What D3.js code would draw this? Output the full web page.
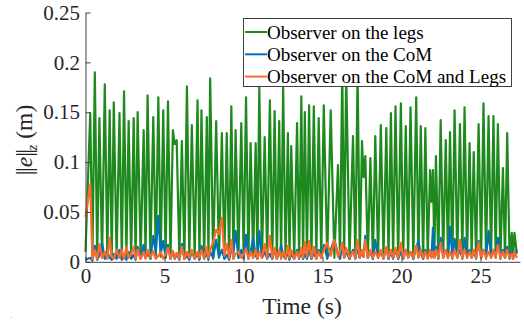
<!DOCTYPE html>
<html>
<head>
<meta charset="utf-8">
<script src="https://cdn.jsdelivr.net/npm/d3@7"></script>
<style>
  body { margin: 0; background: #fff; }
  svg { display: block; font-family: "Liberation Serif", "Times New Roman", serif; }
</style>
</head>
<body>
<svg></svg>
<script>
// Data
var w = 524,
    h = 321;

var time = [0.00, 0.30, 0.44, 0.59, 0.74, 0.88, 1.05, 1.22, 1.38, 1.53,
    1.66, 1.79, 1.97, 2.15, 2.30, 2.44, 2.59, 2.73, 2.89, 3.05,
    3.17, 3.30, 3.49, 3.68, 3.80, 3.93, 4.11, 4.29, 4.45, 4.61,
    4.76, 4.92, 5.07, 5.22, 5.38, 5.53, 5.65, 5.77, 5.94, 6.10,
    6.26, 6.42, 6.57, 6.73, 6.91, 7.09, 7.21, 7.34, 7.51, 7.68,
    7.78, 7.89, 8.08, 8.27, 8.45, 8.63, 8.79, 8.94, 9.09, 9.23,
    9.36, 9.50, 9.68, 9.86, 10.01, 10.16, 10.31, 10.45, 10.61, 10.77,
    10.88, 11.00, 11.17, 11.34, 11.50, 11.67, 11.82, 11.97, 12.11, 12.26,
    12.38, 12.51, 12.66, 12.81, 12.91, 13.02, 13.21, 13.39, 13.52, 13.66,
    13.77, 13.88, 14.02, 14.15, 14.30, 14.45, 14.61, 14.76, 14.92, 15.08,
    15.30, 15.52, 15.75, 15.98, 16.11, 16.25, 16.37, 16.50, 16.71, 16.93,
    17.08, 17.22, 17.36, 17.50, 17.60, 17.71, 17.87, 18.03, 18.19, 18.34,
    18.52, 18.69, 18.86, 19.04, 19.18, 19.33, 19.47, 19.62, 19.79, 19.96,
    20.11, 20.27, 20.42, 20.57, 20.75, 20.93, 21.07, 21.22, 21.37, 21.51,
    21.66, 21.81, 21.90, 21.99, 22.08, 22.18, 22.33, 22.48, 22.64, 22.80,
    22.94, 23.07, 23.22, 23.36, 23.53, 23.70, 23.85, 23.99, 24.15, 24.31,
    24.44, 24.57, 24.72, 24.88, 25.04, 25.19, 25.35, 25.51, 25.67, 25.82,
    25.96, 26.10, 26.26, 26.42, 26.55, 26.69, 26.84, 26.98, 27.06, 27.15,
    27.30
];

// Observer on the legs
var legs = [0.010, 0.149, 0.004, 0.190, 0.003, 0.144, 0.004, 0.178, 0.005, 0.152,
    0.003, 0.160, 0.004, 0.149, 0.003, 0.171, 0.005, 0.141, 0.004, 0.144,
    0.003, 0.150, 0.005, 0.132, 0.004, 0.167, 0.003, 0.145, 0.004, 0.165,
    0.005, 0.152, 0.004, 0.161, 0.003, 0.132, 0.118, 0.122, 0.004, 0.121,
    0.003, 0.176, 0.005, 0.137, 0.004, 0.162, 0.003, 0.152, 0.004, 0.145,
    0.005, 0.184, 0.003, 0.141, 0.004, 0.129, 0.003, 0.129, 0.004, 0.156,
    0.003, 0.132, 0.004, 0.139, 0.005, 0.165, 0.003, 0.119, 0.004, 0.119,
    0.003, 0.175, 0.004, 0.125, 0.005, 0.162, 0.003, 0.151, 0.004, 0.141,
    0.003, 0.175, 0.004, 0.129, 0.003, 0.116, 0.004, 0.139, 0.005, 0.166,
    0.003, 0.150, 0.004, 0.157, 0.003, 0.156, 0.004, 0.144, 0.005, 0.157,
    0.003, 0.152, 0.004, 0.097, 0.003, 0.195, 0.004, 0.190, 0.003, 0.126,
    0.005, 0.190, 0.004, 0.121, 0.085, 0.106, 0.004, 0.104, 0.003, 0.126,
    0.004, 0.137, 0.005, 0.134, 0.003, 0.149, 0.004, 0.156, 0.003, 0.159,
    0.004, 0.136, 0.005, 0.155, 0.003, 0.165, 0.004, 0.136, 0.003, 0.134,
    0.004, 0.092, 0.060, 0.092, 0.004, 0.106, 0.003, 0.142, 0.004, 0.122,
    0.005, 0.130, 0.003, 0.152, 0.004, 0.138, 0.003, 0.155, 0.004, 0.119,
    0.005, 0.110, 0.003, 0.138, 0.004, 0.159, 0.003, 0.146, 0.004, 0.146,
    0.005, 0.138, 0.003, 0.094, 0.004, 0.129, 0.003, 0.029, 0.004, 0.029,
    0.008
];

// Observer on the CoM
var com = [0.002, 0.004, 0.001, 0.016, 0.002, 0.006, 0.019, 0.003, 0.010, 0.004,
    0.002, 0.008, 0.003, 0.012, 0.002, 0.006, 0.002, 0.010, 0.003, 0.007,
    0.002, 0.015, 0.003, 0.017, 0.004, 0.008, 0.003, 0.026, 0.010, 0.046,
    0.008, 0.021, 0.004, 0.017, 0.003, 0.010, 0.003, 0.008, 0.002, 0.018,
    0.003, 0.006, 0.002, 0.010, 0.003, 0.008, 0.002, 0.016, 0.003, 0.009,
    0.002, 0.010, 0.004, 0.022, 0.005, 0.012, 0.003, 0.007, 0.002, 0.012,
    0.010, 0.031, 0.004, 0.012, 0.003, 0.027, 0.004, 0.010, 0.024, 0.006,
    0.003, 0.031, 0.004, 0.010, 0.003, 0.008, 0.003, 0.012, 0.003, 0.008,
    0.017, 0.006, 0.003, 0.010, 0.002, 0.008, 0.003, 0.012, 0.003, 0.010,
    0.003, 0.008, 0.003, 0.012, 0.003, 0.009, 0.003, 0.012, 0.004, 0.017,
    0.004, 0.012, 0.022, 0.008, 0.003, 0.018, 0.004, 0.010, 0.003, 0.012,
    0.003, 0.014, 0.004, 0.010, 0.005, 0.026, 0.004, 0.010, 0.003, 0.022,
    0.004, 0.010, 0.003, 0.014, 0.003, 0.010, 0.003, 0.012, 0.003, 0.010,
    0.003, 0.012, 0.004, 0.010, 0.003, 0.014, 0.021, 0.008, 0.003, 0.012,
    0.004, 0.010, 0.005, 0.034, 0.006, 0.015, 0.004, 0.024, 0.005, 0.012,
    0.004, 0.035, 0.006, 0.023, 0.005, 0.012, 0.004, 0.024, 0.005, 0.012,
    0.004, 0.010, 0.004, 0.021, 0.004, 0.012, 0.005, 0.031, 0.005, 0.012,
    0.004, 0.024, 0.005, 0.012, 0.004, 0.015, 0.004, 0.010, 0.003, 0.008,
    0.012
];

// Observer on the CoM and Legs
var comLegs = [0.045, 0.078, 0.002, 0.012, 0.003, 0.018, 0.004, 0.010, 0.003, 0.024,
    0.005, 0.003, 0.012, 0.004, 0.012, 0.003, 0.015, 0.004, 0.008, 0.015,
    0.003, 0.012, 0.003, 0.010, 0.003, 0.012, 0.004, 0.011, 0.003, 0.006,
    0.010, 0.003, 0.008, 0.014, 0.003, 0.011, 0.004, 0.009, 0.003, 0.015,
    0.003, 0.010, 0.004, 0.012, 0.003, 0.010, 0.004, 0.012, 0.003, 0.015,
    0.004, 0.012, 0.020, 0.032, 0.028, 0.044, 0.006, 0.018, 0.004, 0.022,
    0.003, 0.008, 0.010, 0.004, 0.008, 0.013, 0.003, 0.010, 0.004, 0.012,
    0.003, 0.010, 0.004, 0.018, 0.004, 0.026, 0.004, 0.014, 0.003, 0.012,
    0.004, 0.010, 0.003, 0.016, 0.004, 0.012, 0.003, 0.010, 0.004, 0.014,
    0.004, 0.020, 0.005, 0.021, 0.004, 0.015, 0.003, 0.010, 0.004, 0.012,
    0.019, 0.006, 0.022, 0.005, 0.010, 0.019, 0.004, 0.014, 0.004, 0.010,
    0.004, 0.022, 0.004, 0.012, 0.005, 0.022, 0.004, 0.012, 0.004, 0.010,
    0.004, 0.012, 0.003, 0.015, 0.004, 0.012, 0.004, 0.014, 0.004, 0.019,
    0.004, 0.012, 0.004, 0.010, 0.004, 0.016, 0.004, 0.012, 0.004, 0.010,
    0.003, 0.012, 0.004, 0.010, 0.004, 0.012, 0.004, 0.019, 0.004, 0.012,
    0.004, 0.010, 0.004, 0.012, 0.004, 0.022, 0.004, 0.012, 0.004, 0.010,
    0.004, 0.012, 0.004, 0.019, 0.004, 0.012, 0.004, 0.010, 0.004, 0.012,
    0.004, 0.017, 0.004, 0.010, 0.004, 0.012, 0.004, 0.008, 0.003, 0.010,
    0.004
];

var seriesNames = ['Observer on the legs', 'Observer on the CoM', 'Observer on the CoM and Legs'];
var seriesColors = ['#1E8A1E', '#0072BD', '#FF6A2A'];
var xTicks = [0, 5, 10, 15, 20, 25];
var yTicks = [0, 0.05, 0.1, 0.15, 0.2, 0.25];

// Canvas
var svg = d3.select('svg')
    .attr('width', w)
    .attr('height', h);

var xScale = d3.scaleLinear()
    .domain([0, 27.5])
    .range([85.5, 520]);
var yScale = d3.scaleLinear()
    .domain([0, 0.25])
    .range([261.8, 12.5]);

// Lines
var line = d3.line()
    .x(function(d, i) { return xScale(time[i]); })
    .y(function(d) { return yScale(d); });

[legs, com, comLegs].forEach(function(s, k) {
    svg.append('path')
        .datum(s)
        .attr('d', line)
        .attr('fill', 'none')
        .attr('stroke', seriesColors[k])
        .attr('stroke-width', 2.2)
        .attr('stroke-linejoin', 'round');
});

// Axes (ticks inside, like matlab)
var xAxis = svg.append('g')
    .attr('transform', 'translate(0,' + yScale(0) + ')')
    .call(d3.axisBottom(xScale).tickValues(xTicks).tickSizeInner(-5).tickSizeOuter(0).tickPadding(6).tickFormat(d3.format('d')));
var yAxis = svg.append('g')
    .attr('transform', 'translate(' + xScale(0) + ',0)')
    .call(d3.axisLeft(yScale).tickValues(yTicks).tickSizeInner(-5).tickSizeOuter(0).tickPadding(5.5).tickFormat(function(d) { return d === 0 ? '0' : String(d); }));

[xAxis, yAxis].forEach(function(a) {
    a.attr('font-family', '"Liberation Serif", serif')
        .attr('font-size', 21);
    a.select('.domain').attr('stroke', '#404040');
    a.selectAll('.tick line').attr('stroke', '#404040');
    a.selectAll('.tick text').attr('fill', '#262626');
});

// Axis labels
svg.append('text')
    .attr('x', 302)
    .attr('y', 314)
    .attr('text-anchor', 'middle')
    .attr('fill', '#262626')
    .attr('font-size', 23.5)
    .text('Time (s)');

var yl = svg.append('text')
    .attr('transform', 'translate(32,140) rotate(-90)')
    .attr('text-anchor', 'middle')
    .attr('fill', '#262626')
    .attr('font-size', 23.5);
yl.append('tspan').attr('letter-spacing', -1.5).text('||');
yl.append('tspan').attr('dx', 1.5).style('font-style', 'italic').text('e');
yl.append('tspan').attr('letter-spacing', -1.5).text('||');
yl.append('tspan').style('font-style', 'italic').attr('font-size', 15).attr('dy', 5).text('z');
yl.append('tspan').attr('dy', -5).text(' (m)');

// Legend
var lg = svg.append('g');
lg.append('rect')
    .attr('x', 243.5)
    .attr('y', 18.5)
    .attr('width', 268)
    .attr('height', 68)
    .attr('fill', '#fff')
    .attr('stroke', '#404040')
    .attr('stroke-width', 1);

seriesNames.forEach(function(name, i) {
    var yy = 32 + i * 22.3;
    lg.append('line')
        .attr('x1', 245)
        .attr('x2', 267)
        .attr('y1', yy)
        .attr('y2', yy)
        .attr('stroke', seriesColors[i])
        .attr('stroke-width', 2);
    lg.append('text')
        .attr('x', 267)
        .attr('y', yy + 6.5)
        .attr('fill', '#000')
        .attr('font-size', 19)
        .text(name);
});

// small dot left bottom
svg.append('text')
    .attr('x', 10)
    .attr('y', 318)
    .attr('fill', '#888866')
    .attr('font-size', 8)
    .text('.');
</script>
</body>
</html>
